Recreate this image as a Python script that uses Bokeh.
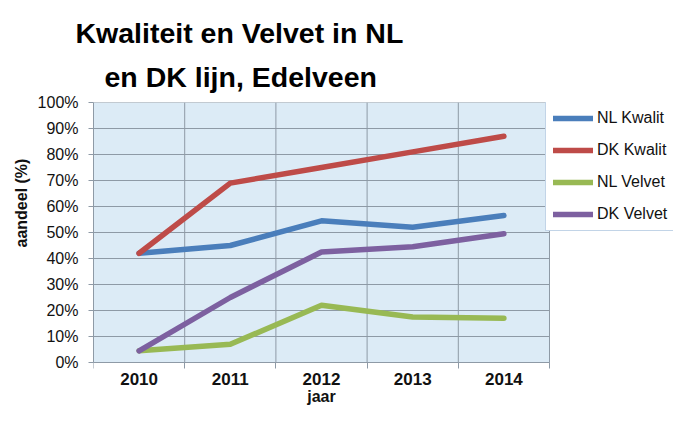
from bokeh.plotting import figure
from bokeh.models import Range1d, FixedTicker, NumeralTickFormatter, Title
from bokeh.embed import file_html
from bokeh.resources import INLINE

# ---- data ----
years = [2010, 2011, 2012, 2013, 2014]
nl_kwalit = [0.42, 0.45, 0.545, 0.52, 0.565]
dk_kwalit = [0.42, 0.69, 0.75, 0.81, 0.87]
nl_velvet = [0.045, 0.07, 0.22, 0.175, 0.17]
dk_velvet = [0.045, 0.25, 0.425, 0.445, 0.495]
series_names = ["NL Kwalit", "DK Kwalit", "NL Velvet", "DK Velvet"]
y_ticks = [0.0, 0.1, 0.2, 0.3, 0.4, 0.5, 0.6, 0.7, 0.8, 0.9, 1.0]
title_line1 = "Kwaliteit en Velvet in NL"
title_line2 = "en DK lijn, Edelveen"
x_title = "jaar"
y_title = "aandeel (%)"

colors = ["#4A7EBB", "#BE4B48", "#98B954", "#7D60A0"]
grid_col = "#8E9AA6"
FONT = "Liberation Sans"

# layout (pixels)
W, H = 673, 405
LEFT, TOP = 93, 102
PLOT_W, PLOT_H = 456, 260          # size of the blue plot area
FRAME_W, FRAME_H = W - LEFT, H - TOP  # frame extends right (legend) and down (axis labels)

bounds = [y - 0.5 for y in years] + [years[-1] + 0.5]
x_end = bounds[0] + (bounds[-1] - bounds[0]) * FRAME_W / PLOT_W
y_start = y_ticks[-1] - (y_ticks[-1] - y_ticks[0]) * FRAME_H / PLOT_H

p = figure(width=W, height=H, output_backend="svg", toolbar_location=None,
           x_range=Range1d(bounds[0], x_end), y_range=Range1d(y_start, y_ticks[-1]),
           min_border_left=LEFT, min_border_right=0, min_border_top=TOP,
           min_border_bottom=0)
p.background_fill_color = "white"
p.border_fill_color = "white"
p.outline_line_color = None

# blue plot area
p.quad(left=[bounds[0]], right=[bounds[-1]], bottom=[y_ticks[0]], top=[y_ticks[-1]],
       fill_color="#DCEBF6", line_color=None, level="image")

# gridlines limited to the plot area
p.ygrid.visible = False
p.xgrid.visible = False
p.segment(x0=[bounds[0]] * len(y_ticks), x1=[bounds[-1]] * len(y_ticks),
          y0=y_ticks, y1=y_ticks, line_color=grid_col, line_width=1, level="underlay")
p.segment(x0=bounds, x1=bounds, y0=[y_ticks[0]] * len(bounds), y1=[y_ticks[-1]] * len(bounds),
          line_color=grid_col, line_width=1, level="underlay")

for vals, name, col in zip([nl_kwalit, dk_kwalit, nl_velvet, dk_velvet], series_names, colors):
    p.line(years, vals, line_color=col, line_width=5.5, line_cap="round", line_join="round",
           legend_label=name)

# x axis, pinned at 0%
xa = p.xaxis[0]
xa.fixed_location = y_ticks[0]
xa.bounds = (bounds[0], bounds[-1])
xa.ticker = FixedTicker(ticks=years, minor_ticks=bounds)
xa.major_label_overrides = {y: str(y) for y in years}
xa.major_tick_out = 0
xa.major_tick_in = 0
xa.minor_tick_out = 6
xa.minor_tick_in = 0
xa.minor_tick_line_color = grid_col
xa.axis_line_color = grid_col
xa.major_label_text_font = FONT
xa.major_label_text_font_style = "bold"
xa.major_label_text_font_size = "17px"
xa.major_label_text_color = "#111111"
xa.major_label_standoff = 4
xa.axis_label = x_title
xa.axis_label_text_font = FONT
xa.axis_label_text_font_style = "bold"
xa.axis_label_text_font_size = "16px"
xa.axis_label_text_color = "#111111"
xa.axis_label_standoff = 0

# y axis
ya = p.yaxis[0]
ya.bounds = (y_ticks[0], y_ticks[-1])
ya.ticker = FixedTicker(ticks=y_ticks)
ya.formatter = NumeralTickFormatter(format="0%")
ya.major_tick_out = 5
ya.major_tick_in = 0
ya.major_tick_line_color = grid_col
ya.axis_line_color = grid_col
ya.minor_tick_line_color = None
ya.major_label_text_font = FONT
ya.major_label_text_font_size = "16px"
ya.major_label_text_color = "#111111"
ya.major_label_standoff = 10

# legend (inside the frame, to the right of the plot area)
lg = p.legend[0]
lg.location = (452, 174)
lg.padding = 7
lg.spacing = 14
lg.glyph_height = 18
lg.label_height = 18
lg.glyph_width = 40
lg.label_width = 140
lg.label_standoff = 4
lg.margin = 0
lg.border_line_color = "#86A9CF"
lg.border_line_width = 1
lg.background_fill_color = "white"
lg.background_fill_alpha = 1
lg.label_text_font = FONT
lg.label_text_font_size = "16px"
lg.label_text_color = "#111111"

# y axis title as a title in the left panel
p.add_layout(Title(text=y_title, align="left", offset=158, standoff=10,
                   text_font=FONT, text_font_style="bold", text_font_size="16px",
                   text_color="#111111"), "left")

# two-line chart title (closest to plot first)
p.add_layout(Title(text=title_line2, align="left", offset=11, standoff=20,
                   text_font=FONT, text_font_style="bold", text_font_size="28.5px",
                   text_color="black"), "above")
p.add_layout(Title(text=title_line1, align="left", offset=-18, standoff=0,
                   text_font=FONT, text_font_style="bold", text_font_size="28.5px",
                   text_color="black"), "above")

open("out.html", "w").write(file_html(p, INLINE))
